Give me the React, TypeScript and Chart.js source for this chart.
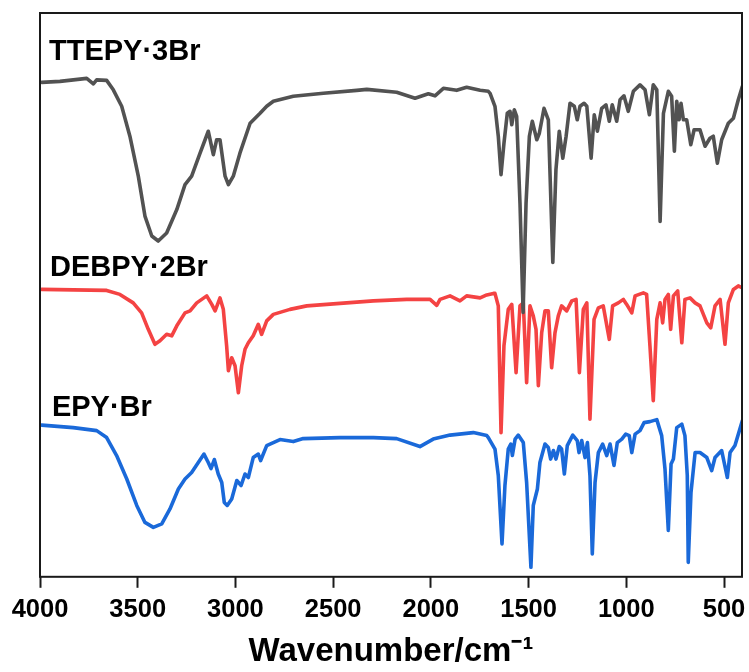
import React, { useEffect, useRef } from "react";
import { Chart, registerables } from "chart.js";

Chart.register(...registerables);

// Wavenumber (cm-1) tick labels
const xTicks = [4000, 3500, 3000, 2500, 2000, 1500, 1000, 500];

// Series names
const seriesNames = ["TTEPY·3Br", "DEBPY·2Br", "EPY·Br"];

// Transmittance (a.u., stacked offsets) vs wavenumber
const ttepyData: [number, number][] = [
  [3991, 99.1], [3898, 99.3], [3761, 99.9], [3727, 98.8], [3710, 99.6], [3659, 99.5], [3625, 97.6],
  [3582, 94.3], [3540, 88.3], [3497, 80.3], [3463, 72.3], [3428, 68.3], [3395, 67.3], [3352, 68.9],
  [3300, 73.6], [3258, 78.6], [3224, 80.3], [3181, 84.9], [3139, 89.3], [3113, 84.6], [3096, 87.6],
  [3079, 87.6], [3053, 80.3], [3036, 78.6], [3011, 80.3], [2977, 84.9], [2925, 90.9], [2874, 92.9],
  [2840, 94.3], [2806, 95.3], [2704, 96.3], [2550, 96.9], [2379, 97.5], [2328, 97.7], [2175, 97.1],
  [2081, 95.9], [2013, 96.8], [1979, 96.4], [1936, 97.9], [1868, 97.5], [1817, 98.1], [1748, 97.5],
  [1706, 97.3], [1697, 96.9], [1672, 94.3], [1655, 88.3], [1641, 80.6], [1626, 86.9], [1609, 92.9],
  [1595, 93.3], [1586, 90.6], [1573, 93.6], [1561, 92.3], [1544, 74.9], [1528, 53.0], [1513, 74.9],
  [1496, 88.3], [1481, 91.3], [1458, 87.6], [1445, 88.9], [1421, 93.9], [1399, 91.6], [1376, 63.0],
  [1360, 81.6], [1343, 89.3], [1325, 83.9], [1308, 88.3], [1288, 94.9], [1266, 94.3], [1251, 91.6],
  [1237, 94.3], [1216, 94.9], [1202, 94.3], [1180, 83.9], [1164, 92.6], [1148, 89.3], [1126, 93.9],
  [1104, 94.6], [1087, 91.3], [1072, 94.6], [1049, 91.3], [1032, 95.6], [1012, 96.4], [990, 93.3],
  [964, 97.3], [930, 98.6], [904, 97.6], [882, 92.6], [862, 98.6], [844, 97.6], [827, 71.2],
  [810, 92.9], [785, 97.3], [768, 96.3], [754, 85.3], [742, 95.3], [730, 91.6], [720, 94.9],
  [708, 91.6], [691, 91.6], [670, 86.6], [653, 89.6], [623, 89.6], [597, 86.3], [572, 87.9],
  [555, 88.3], [534, 82.9], [512, 87.6], [478, 90.9], [452, 91.9], [427, 95.6], [406, 98.3],
];

const debpyData: [number, number][] = [
  [3991, 57.6], [3830, 57.5], [3659, 57.4], [3591, 56.6], [3523, 54.9], [3480, 52.9], [3446, 49.6],
  [3412, 46.6], [3386, 47.3], [3352, 48.6], [3326, 48.3], [3300, 50.3], [3258, 52.9], [3232, 53.3],
  [3198, 54.9], [3147, 56.3], [3121, 54.6], [3104, 53.3], [3079, 55.9], [3062, 53.6], [3045, 46.3],
  [3036, 41.3], [3019, 43.9], [3002, 42.3], [2985, 36.9], [2968, 42.3], [2951, 45.6], [2934, 46.9],
  [2909, 48.3], [2883, 50.6], [2866, 48.6], [2840, 51.3], [2806, 52.6], [2721, 53.6], [2635, 54.3],
  [2465, 54.8], [2294, 55.3], [2124, 55.6], [2004, 55.6], [1970, 54.4], [1953, 55.6], [1902, 56.3],
  [1851, 55.3], [1817, 56.3], [1748, 55.9], [1714, 56.5], [1680, 56.8], [1672, 56.8], [1655, 54.3],
  [1641, 28.9], [1626, 46.3], [1604, 53.6], [1586, 54.6], [1564, 40.9], [1544, 54.3], [1527, 54.9],
  [1510, 38.9], [1493, 54.3], [1476, 52.3], [1462, 49.6], [1450, 38.3], [1433, 48.9], [1416, 53.3],
  [1399, 53.3], [1382, 41.9], [1365, 48.9], [1348, 52.3], [1331, 54.3], [1305, 53.3], [1279, 55.3],
  [1257, 55.6], [1240, 40.9], [1220, 53.6], [1202, 54.9], [1186, 31.6], [1165, 51.6], [1143, 53.9],
  [1118, 54.3], [1087, 47.6], [1070, 54.3], [1041, 54.9], [1015, 55.6], [998, 54.6], [972, 52.9],
  [955, 56.3], [913, 56.9], [896, 56.6], [879, 46.3], [862, 35.3], [844, 51.6], [827, 54.9],
  [814, 50.9], [802, 55.6], [785, 56.6], [773, 49.6], [759, 56.3], [737, 57.3], [716, 46.9],
  [700, 55.6], [674, 55.9], [648, 54.9], [623, 54.3], [588, 50.9], [568, 49.9], [546, 54.3],
  [520, 55.6], [495, 46.6], [478, 54.9], [452, 57.6], [427, 58.3], [406, 57.9],
];

const epyData: [number, number][] = [
  [3991, 30.4], [3830, 29.9], [3710, 29.3], [3659, 27.9], [3608, 24.3], [3556, 19.6], [3505, 14.3],
  [3463, 10.9], [3420, 9.9], [3377, 10.6], [3335, 13.6], [3292, 17.6], [3258, 19.6], [3224, 20.9],
  [3190, 22.9], [3161, 24.6], [3139, 22.9], [3125, 21.7], [3108, 23.5], [3088, 20.6], [3070, 18.9],
  [3057, 14.9], [3042, 14.3], [3019, 15.6], [2993, 19.3], [2971, 18.3], [2951, 20.6], [2934, 19.9],
  [2909, 23.9], [2883, 24.6], [2871, 23.3], [2840, 26.3], [2772, 27.5], [2704, 27.1], [2653, 27.7],
  [2465, 27.9], [2294, 27.9], [2175, 27.7], [2056, 26.1], [1988, 27.6], [1902, 28.4], [1783, 28.9],
  [1748, 28.6], [1714, 28.3], [1706, 27.9], [1672, 25.6], [1655, 20.3], [1636, 6.6], [1621, 18.3],
  [1604, 25.6], [1591, 26.6], [1583, 24.3], [1569, 27.6], [1553, 28.4], [1527, 26.9], [1510, 18.9],
  [1488, 1.9], [1476, 14.3], [1455, 17.6], [1442, 22.9], [1416, 26.6], [1399, 25.9], [1387, 23.6],
  [1373, 25.3], [1360, 23.6], [1343, 26.1], [1331, 25.6], [1317, 20.6], [1302, 26.3], [1274, 28.4],
  [1251, 27.3], [1242, 24.9], [1228, 27.3], [1211, 23.9], [1199, 26.9], [1186, 20.3], [1174, 4.6],
  [1160, 18.9], [1143, 24.9], [1121, 26.6], [1100, 24.3], [1083, 26.6], [1063, 22.3], [1046, 26.9],
  [1023, 27.6], [1003, 28.6], [985, 28.3], [972, 24.9], [955, 28.6], [930, 29.3], [909, 30.9],
  [879, 31.1], [844, 31.5], [819, 28.3], [802, 21.6], [785, 9.3], [771, 22.6], [759, 23.6],
  [742, 29.9], [716, 30.6], [700, 28.3], [688, 20.3], [683, 2.9], [669, 16.9], [648, 24.9],
  [623, 24.9], [588, 23.9], [563, 21.3], [546, 23.9], [512, 25.3], [483, 19.9], [469, 24.9],
  [444, 26.3], [406, 31.3],
];

const seriesData = [ttepyData, debpyData, epyData];
const seriesColors = ["#525252", "#f44343", "#1a69d9"];
// label anchors (wavenumber, value) for the series names
const labelAnchors: [number, number][] = [[3954, 103.6], [3949, 60.2], [3939, 32.2]];

const FONT = "'Liberation Sans', Arial, Helvetica, sans-serif";

export default function App() {
  const canvasRef = useRef<HTMLCanvasElement | null>(null);

  useEffect(() => {
    document.body.style.margin = "0";
    const canvas = canvasRef.current;
    if (!canvas) return;

    const framePlugin = {
      id: "frameAndLabels",
      afterDatasetsDraw(chart: any) {
        const { ctx, chartArea, scales } = chart;
        ctx.save();
        ctx.strokeStyle = "#1a1a1a";
        ctx.lineWidth = 2;
        ctx.strokeRect(chartArea.left, chartArea.top, chartArea.right - chartArea.left, chartArea.bottom - chartArea.top);
        ctx.fillStyle = "#000";
        ctx.font = `bold 29px ${FONT}`;
        ctx.textBaseline = "alphabetic";
        ctx.textAlign = "left";
        seriesNames.forEach((name, i) => {
          const [wx, vy] = labelAnchors[i];
          ctx.fillText(name, scales.x.getPixelForValue(wx), scales.y.getPixelForValue(vy));
        });
        ctx.restore();
      },
    };

    const chart = new Chart(canvas, {
      type: "line",
      data: {
        datasets: seriesData.map((arr, i) => ({
          label: seriesNames[i],
          data: arr.map(([x, y]) => ({ x, y })),
          borderColor: seriesColors[i],
          backgroundColor: seriesColors[i],
          borderWidth: 3.6,
          pointRadius: 0,
          tension: 0,
          fill: false,
          borderJoinStyle: "round" as const,
          borderCapStyle: "round" as const,
        })),
      },
      options: {
        responsive: false,
        animation: false,
        events: [],
        layout: { padding: { left: 40, right: 7, top: 13, bottom: 0 } },
        plugins: { legend: { display: false }, tooltip: { enabled: false } },
        scales: {
          x: {
            type: "linear",
            reverse: true,
            min: 408,
            max: 4000,
            afterBuildTicks: (scale: any) => {
              scale.ticks = xTicks.map((v) => ({ value: v }));
            },
            afterFit: (scale: any) => {
              scale.paddingLeft = 0;
              scale.paddingRight = 0;
            },
            grid: {
              display: true,
              drawOnChartArea: false,
              drawTicks: true,
              tickLength: 11,
              tickWidth: 2,
              tickColor: "#1a1a1a",
            },
            border: { display: false },
            ticks: {
              autoSkip: false,
              maxRotation: 0,
              padding: 7,
              color: "#000",
              font: { family: FONT, size: 25.5, weight: "bold" },
              callback: (v: any) => String(v),
            },
            title: {
              display: true,
              text: "Wavenumber/cm⁻¹",
              color: "#000",
              font: { family: FONT, size: 33, weight: "bold" },
              padding: { top: 0, bottom: 0 },
            },
          },
          y: {
            display: false,
            min: 0,
            max: 113,
          },
        },
      },
      plugins: [framePlugin],
    });

    return () => chart.destroy();
  }, []);

  return (
    <div style={{ width: 749, height: 672, position: "relative" }}>
      <canvas ref={canvasRef} width={749} height={672} style={{ width: 749, height: 672, display: "block" }} />
    </div>
  );
}
